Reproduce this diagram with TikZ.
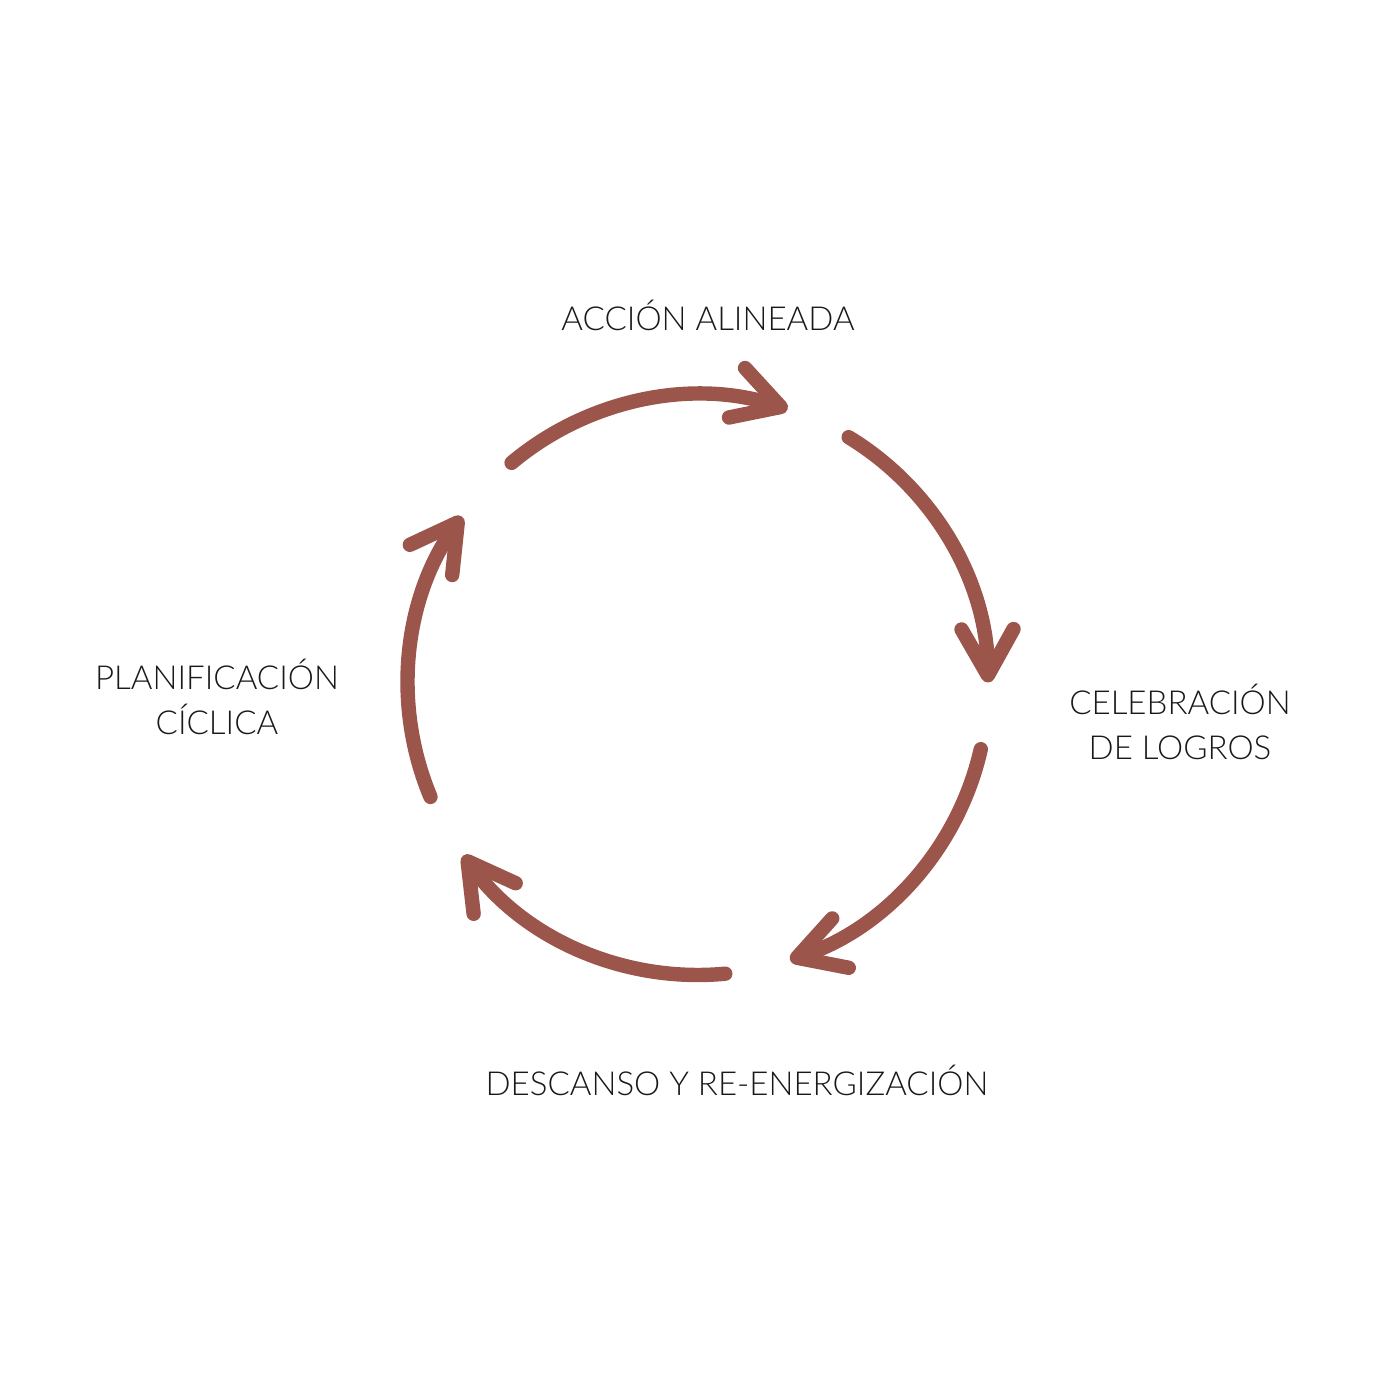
\documentclass[tikz,border=0pt]{standalone}
\usepackage{fontspec}
\setmainfont{Lato}[UprightFont={* Light}]
\usetikzlibrary{arrows.meta,calc}
\definecolor{brick}{RGB}{155,85,74}
\definecolor{ink}{RGB}{25,25,25}
\begin{document}
\begin{tikzpicture}[
  cyc/.style={draw=brick, line width=4.1pt, line cap=round,
    -{Straight Barb[length=4.6mm, width=5.2mm, round]}},
  lbl/.style={text=ink, align=center, font=\fontsize{9.4}{12.8}\selectfont}
]
\useasboundingbox[fill=white] (0,0) rectangle (14,14);
\coordinate (c) at (6.98,7.15);
\def\R{2.9}
\draw[cyc] ($(c)+(130:\R)$) arc[start angle=130, end angle=72, radius=\R];
\draw[cyc] ($(c)+(58.7:\R)$) arc[start angle=58.7, end angle=0.5, radius=\R];
\draw[cyc] ($(c)+(-12.8:\R)$) arc[start angle=-12.8, end angle=-71.5, radius=\R];
\draw[cyc] ($(c)+(-84.6:\R)$) arc[start angle=-84.6, end angle=-144, radius=\R];
\draw[cyc] ($(c)+(202.7:\R)$) arc[start angle=202.7, end angle=144.5, radius=\R];
\node[lbl] (accion) at (7.08,10.85) {ACCIÓN ALINEADA};
\node[lbl] (celeb) at (11.80,6.78) {CELEBRACIÓN\\DE LOGROS};
\node[lbl] (desc) at (7.37,3.20) {DESCANSO Y RE-ENERGIZACIÓN};
\node[lbl] (plan) at (2.17,7.03) {PLANIFICACIÓN\\CÍCLICA};
\end{tikzpicture}
\end{document}
